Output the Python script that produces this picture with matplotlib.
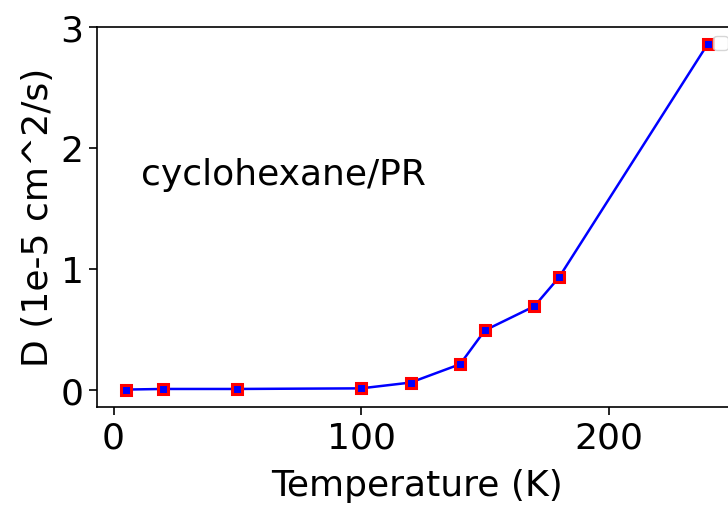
import matplotlib
matplotlib.use("Agg")
import matplotlib.pyplot as plt

# Diffusion coefficient vs temperature
temperature = [5, 20, 50, 100, 120, 140, 150, 170, 180, 240]
diffusion = [0.0, 0.005, 0.005, 0.01, 0.058, 0.21, 0.49, 0.69, 0.93, 2.86]

plt.rcParams['font.size'] = 26

fig = plt.figure(figsize=(7.28, 5.06), dpi=100)
ax = fig.add_axes([0.133, 0.194, 0.879, 0.751])

ax.plot(temperature, diffusion, color='blue', lw=1.8, marker='s', markersize=6.5,
        markerfacecolor='blue', markeredgecolor='red', markeredgewidth=2.2)

ax.text(11, 1.70, 'cyclohexane/PR', fontsize=26)

ax.set_xlabel('Temperature (K)', labelpad=10)
ax.set_ylabel('D (1e-5 cm^2/s)', labelpad=4)
ax.set_xticks([0, 100, 200])
ax.set_yticks([0, 1, 2, 3])
ax.tick_params(length=6, width=1.2, labelsize=26)
for s in ax.spines.values():
    s.set_linewidth(1.2)
ax.legend(loc='upper right', fontsize=13)

fig.savefig('out.png', dpi=100)
